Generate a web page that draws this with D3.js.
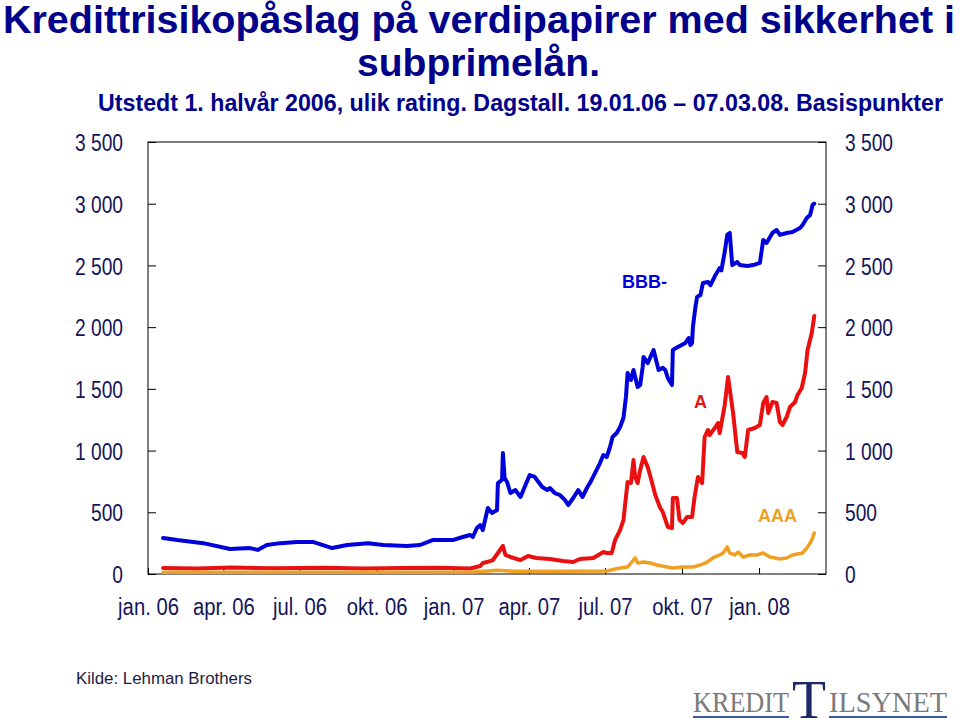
<!DOCTYPE html>
<html><head><meta charset="utf-8">
<script src="https://cdn.jsdelivr.net/npm/d3@7"></script>
<style>body{margin:0;background:#fff}svg{display:block}</style>
</head><body>
<svg id="c" width="960" height="720"></svg>
<script>
// ---- data ----
const bbbDates = ["2006-01-19","2006-02-05","2006-03-08","2006-04-09","2006-05-03","2006-05-12","2006-05-23","2006-06-08","2006-06-28","2006-07-17","2006-08-09","2006-08-27","2006-09-21","2006-10-09","2006-11-06","2006-11-22","2006-12-07","2006-12-31","2007-01-12","2007-01-21","2007-01-24","2007-01-29","2007-02-02","2007-02-05","2007-02-11","2007-02-16","2007-02-22","2007-02-23","2007-02-28","2007-03-01","2007-03-03","2007-03-06","2007-03-10","2007-03-16","2007-03-22","2007-03-27","2007-04-02","2007-04-08","2007-04-17","2007-04-23","2007-04-26","2007-05-02","2007-05-08","2007-05-14","2007-05-18","2007-05-24","2007-05-30","2007-06-04","2007-06-10","2007-06-13","2007-06-19","2007-06-25","2007-06-29","2007-07-03","2007-07-07","2007-07-10","2007-07-15","2007-07-19","2007-07-23","2007-07-26","2007-07-28","2007-08-01","2007-08-04","2007-08-09","2007-08-12","2007-08-15","2007-08-16","2007-08-21","2007-08-28","2007-09-03","2007-09-08","2007-09-11","2007-09-14","2007-09-19","2007-09-20","2007-09-26","2007-10-05","2007-10-09","2007-10-11","2007-10-13","2007-10-14","2007-10-17","2007-10-19","2007-10-23","2007-10-26","2007-11-01","2007-11-04","2007-11-10","2007-11-15","2007-11-17","2007-11-21","2007-11-24","2007-11-27","2007-11-30","2007-12-06","2007-12-09","2007-12-18","2007-12-25","2008-01-02","2008-01-06","2008-01-10","2008-01-17","2008-01-22","2008-01-26","2008-02-03","2008-02-10","2008-02-19","2008-02-22","2008-02-27","2008-03-02","2008-03-05","2008-03-07"];
const bbbValues = [292,275,250,203,210,195,235,250,260,260,210,235,250,235,227,235,275,275,300,316,300,373,397,356,535,494,518,737,762,980,778,745,656,680,624,705,802,786,705,680,697,656,640,600,559,616,680,624,705,737,818,899,964,948,1029,1110,1142,1191,1264,1434,1628,1572,1653,1515,1531,1677,1758,1709,1815,1653,1670,1653,1588,1531,1815,1839,1872,1912,1855,1872,2001,2163,2244,2260,2358,2366,2340,2423,2479,2460,2609,2747,2763,2503,2528,2503,2495,2503,2520,2706,2682,2763,2787,2747,2763,2771,2803,2828,2884,2909,2990,3000];

const aDates = ["2006-01-19","2006-03-01","2006-04-10","2006-06-01","2006-08-01","2006-09-15","2006-11-01","2006-12-15","2007-01-21","2007-02-02","2007-02-05","2007-02-10","2007-02-17","2007-02-23","2007-03-01","2007-03-04","2007-03-10","2007-03-22","2007-03-31","2007-04-10","2007-04-26","2007-05-12","2007-05-24","2007-06-01","2007-06-17","2007-06-29","2007-07-03","2007-07-09","2007-07-13","2007-07-19","2007-07-23","2007-07-26","2007-07-28","2007-08-01","2007-08-04","2007-08-06","2007-08-09","2007-08-12","2007-08-16","2007-08-21","2007-08-26","2007-08-30","2007-09-05","2007-09-08","2007-09-14","2007-09-19","2007-09-20","2007-09-25","2007-09-28","2007-10-02","2007-10-07","2007-10-13","2007-10-16","2007-10-20","2007-10-25","2007-10-28","2007-11-01","2007-11-03","2007-11-10","2007-11-13","2007-11-15","2007-11-21","2007-11-25","2007-12-01","2007-12-06","2007-12-12","2007-12-15","2007-12-19","2007-12-27","2008-01-02","2008-01-06","2008-01-10","2008-01-12","2008-01-17","2008-01-22","2008-01-26","2008-01-29","2008-02-03","2008-02-07","2008-02-13","2008-02-16","2008-02-21","2008-02-25","2008-02-28","2008-03-04","2008-03-07"];
const aValues = [49,45,52,47,50,45,48,50,45,65,89,97,113,170,227,154,138,113,146,130,122,105,97,122,130,178,170,170,275,356,437,624,745,737,924,786,737,843,948,867,745,640,535,502,381,373,616,616,437,413,462,462,624,786,737,1110,1167,1126,1191,1223,1142,1369,1596,1304,988,980,948,1167,1183,1207,1385,1434,1304,1393,1385,1231,1207,1272,1353,1393,1450,1507,1628,1815,1952,2090];

const aaaDates = ["2006-01-19","2006-06-01","2006-12-01","2007-01-25","2007-02-23","2007-03-15","2007-05-01","2007-07-03","2007-07-19","2007-07-28","2007-08-02","2007-08-06","2007-08-09","2007-08-16","2007-08-24","2007-09-01","2007-09-13","2007-09-20","2007-10-02","2007-10-14","2007-10-23","2007-10-31","2007-11-07","2007-11-15","2007-11-19","2007-11-24","2007-11-27","2007-12-03","2007-12-07","2007-12-13","2007-12-21","2007-12-29","2008-01-06","2008-01-14","2008-01-26","2008-02-03","2008-02-10","2008-02-22","2008-02-28","2008-03-04","2008-03-07"];
const aaaValues = [15,14,15,16,30,22,22,24,49,57,97,130,89,97,89,73,57,49,57,57,73,97,130,154,170,219,170,154,178,138,154,154,170,138,122,130,154,170,219,275,332];

const yTicks = [0,500,1000,1500,2000,2500,3000,3500];
const xTickDates = ["2006-01-01","2006-04-01","2006-07-01","2006-10-01","2007-01-01","2007-04-01","2007-07-01","2007-10-01","2008-01-01"];
const monthNames = ["jan.","feb.","mar.","apr.","mai.","jun.","jul.","aug.","sep.","okt.","nov.","des."];
const seriesNames = ["BBB-","A","AAA"];
const titleLines = ["Kredittrisikopåslag på verdipapirer med sikkerhet i","subprimelån.","Utstedt 1. halvår 2006, ulik rating. Dagstall. 19.01.06 – 07.03.08. Basispunkter"];
const sourceText = "Kilde: Lehman Brothers";

// ---- drawing ----
const svg = d3.select("#c");
const parse = d3.timeParse("%Y-%m-%d");
const L = 148, R = 826, T = 142, B = 574;
const x = d3.scaleTime().domain([parse("2006-01-01"), parse("2008-03-21")]).range([L, R]);
const y = d3.scaleLinear().domain([0, 3500]).range([B, T]);

const titleColor = "#00008a", labelColor = "#14145a";

// title
const tl = [
  {x: 3, y: 33, size: 38, len: 952},
  {x: 357, y: 76, size: 38, len: 243},
  {x: 98, y: 111, size: 23.5, len: 845}
];
titleLines.forEach((t, i) => {
  svg.append("text").attr("x", tl[i].x).attr("y", tl[i].y)
    .attr("font-family", "Liberation Sans, Arial, sans-serif").attr("font-weight", "bold")
    .attr("font-size", tl[i].size).attr("fill", titleColor)
    .attr("textLength", tl[i].len).attr("lengthAdjust", "spacingAndGlyphs").text(t);
});

// frame
svg.append("rect").attr("x", L).attr("y", T).attr("width", R - L).attr("height", B - T)
  .attr("fill", "none").attr("stroke", "#000").attr("stroke-width", 1);

const fmtNum = v => v >= 1000 ? Math.floor(v / 1000) + " " + String(v % 1000).padStart(3, "0") : String(v);
function styleAxis(g) {
  g.select(".domain").remove();
  g.selectAll(".tick line").attr("stroke", "#000");
  g.selectAll("text").attr("font-family", "Liberation Sans, Arial, sans-serif")
    .attr("font-size", 24).attr("fill", labelColor);
}
function squeeze(g, f) {
  g.selectAll("text").each(function() {
    const w = this.getComputedTextLength();
    d3.select(this).attr("textLength", w * f).attr("lengthAdjust", "spacingAndGlyphs");
  });
}

const gl = svg.append("g").attr("transform", `translate(${L},0)`)
  .call(d3.axisLeft(y).tickValues(yTicks).tickSize(-8).tickPadding(25).tickFormat(fmtNum));
styleAxis(gl); gl.selectAll("text").attr("dy", "0.36em"); squeeze(gl, 0.8);

const gr = svg.append("g").attr("transform", `translate(${R},0)`)
  .call(d3.axisRight(y).tickValues(yTicks).tickSize(-8).tickPadding(19).tickFormat(fmtNum));
styleAxis(gr); gr.selectAll("text").attr("dy", "0.36em"); squeeze(gr, 0.8);

const gx = svg.append("g").attr("transform", `translate(0,${B})`)
  .call(d3.axisBottom(x).tickValues(xTickDates.map(parse)).tickSize(-6).tickPadding(0)
    .tickFormat(d => monthNames[d.getMonth()] + " " + String(d.getFullYear() % 100).padStart(2, "0")));
styleAxis(gx); gx.selectAll("text").attr("font-size", 23).attr("y", 41).attr("dy", 0); squeeze(gx, 0.88);

// lines
const line = d3.line().x(d => x(d[0])).y(d => y(d[1]));
const series = [
  {dates: bbbDates, values: bbbValues, color: "#0000dc", w: 4},
  {dates: aDates, values: aValues, color: "#ea1010", w: 4},
  {dates: aaaDates, values: aaaValues, color: "#f0a020", w: 3.5}
];
series.forEach(s => {
  const pts = s.dates.map((d, i) => [parse(d), s.values[i]]);
  svg.append("path").datum(pts).attr("d", line).attr("fill", "none")
    .attr("stroke", s.color).attr("stroke-width", s.w)
    .attr("stroke-linejoin", "round").attr("stroke-linecap", "round");
});

// series labels
const lab = [{x: 622, y: 288}, {x: 694, y: 408}, {x: 758, y: 522}];
seriesNames.forEach((n, i) => {
  svg.append("text").attr("x", lab[i].x).attr("y", lab[i].y)
    .attr("font-family", "Liberation Sans, Arial, sans-serif").attr("font-weight", "bold")
    .attr("font-size", 18).attr("fill", series[i].color).text(n);
});

// source
svg.append("text").attr("x", 76).attr("y", 684)
  .attr("font-family", "Liberation Sans, Arial, sans-serif").attr("font-size", 16)
  .attr("fill", "#1c1c40").attr("textLength", 176).attr("lengthAdjust", "spacingAndGlyphs").text(sourceText);

// logo
const logo = svg.append("g");
logo.append("text").attr("x", 693).attr("y", 712).attr("font-family", "Liberation Serif, Times New Roman, serif")
  .attr("font-size", 30).attr("fill", "#7a7a7a").attr("textLength", 96).attr("lengthAdjust", "spacingAndGlyphs").text("KREDIT");
logo.append("text").attr("x", 792).attr("y", 718).attr("font-family", "Liberation Serif, Times New Roman, serif")
  .attr("font-size", 54).attr("fill", "#1c2868").attr("textLength", 34).attr("lengthAdjust", "spacingAndGlyphs").text("T");
logo.append("text").attr("x", 829).attr("y", 712).attr("font-family", "Liberation Serif, Times New Roman, serif")
  .attr("font-size", 30).attr("fill", "#7a7a7a").attr("textLength", 118).attr("lengthAdjust", "spacingAndGlyphs").text("ILSYNET");
logo.append("rect").attr("x", 693).attr("y", 716).attr("width", 96).attr("height", 2).attr("fill", "#3a5aa8");
logo.append("rect").attr("x", 829).attr("y", 716).attr("width", 118).attr("height", 2).attr("fill", "#3a5aa8");
</script>
</body></html>
